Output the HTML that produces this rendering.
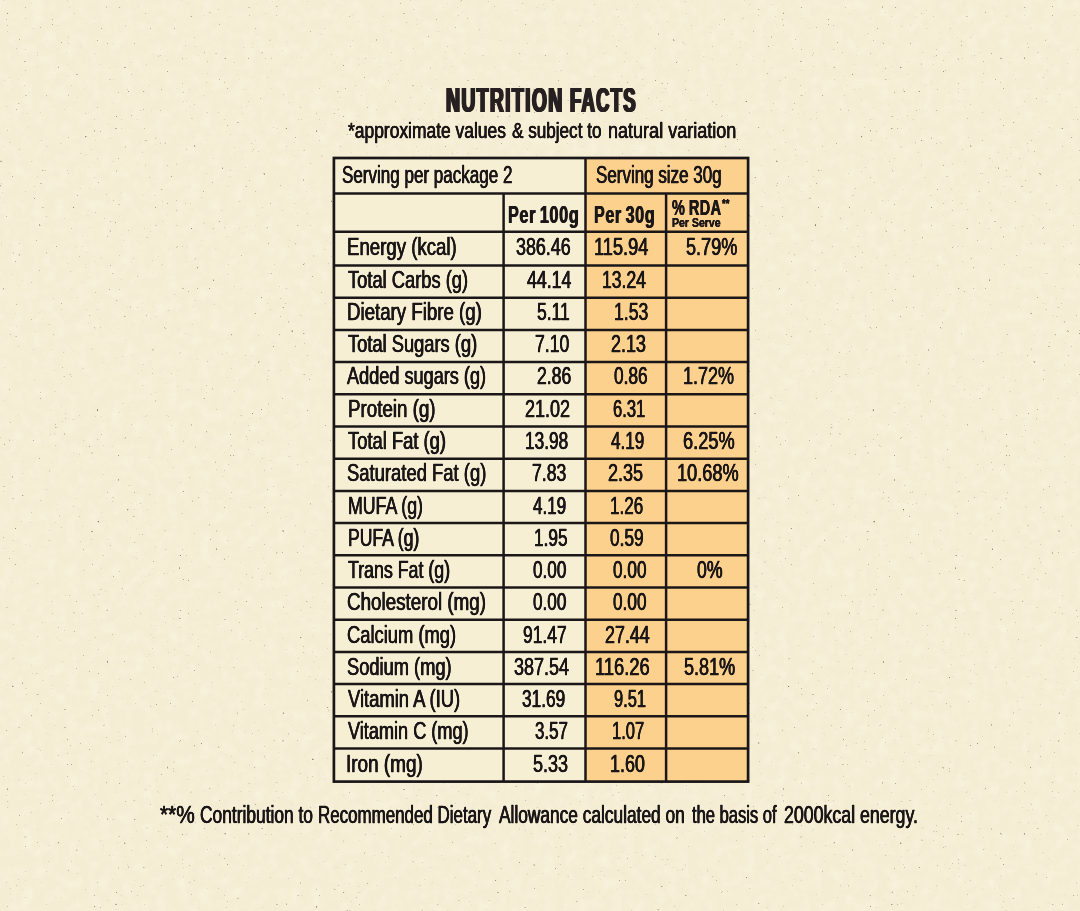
<!DOCTYPE html>
<html lang="en"><head><meta charset="utf-8"><title>Nutrition Facts</title>
<style>
html,body{margin:0;padding:0}
body{width:1080px;height:911px;background:#f4edd3;position:relative;overflow:hidden;font-family:"Liberation Sans",sans-serif;color:#1b1718}
#bg{position:absolute;left:0;top:0}
.t{position:absolute;white-space:nowrap;line-height:1;transform-origin:0 0;margin:0;font-weight:400;-webkit-text-stroke:0.3px #1b1718}
.b{font-weight:700;-webkit-text-stroke:0}
.g{position:absolute;left:0;top:0;width:0;height:0;font-size:0}
.g .t{display:block}
</style></head><body>
<svg id="bg" width="1080" height="911" viewBox="0 0 1080 911">
<defs><filter id="sp" x="0" y="0" width="100%" height="100%" color-interpolation-filters="sRGB"><feTurbulence type="fractalNoise" baseFrequency="0.33" numOctaves="2" seed="11"/><feColorMatrix type="matrix" values="0 0 0 0 0.45  0 0 0 0 0.41  0 0 0 0 0.33  -6 0 0 0 1.38"/></filter><filter id="mo" x="0" y="0" width="100%" height="100%" color-interpolation-filters="sRGB"><feTurbulence type="fractalNoise" baseFrequency="0.09" numOctaves="3" seed="4"/><feColorMatrix type="matrix" values="0 0 0 0 0.985  0 0 0 0 0.955  0 0 0 0 0.87  1.5 0 0 0 -0.6"/></filter></defs>
<rect width="1080" height="911" fill="#f4edd3" filter="url(#mo)"/>
<rect width="1080" height="911" fill="#f4edd3" filter="url(#sp)"/>
<rect x="333.9" y="158" width="251.6" height="623.6" fill="#f7efd4"/>
<rect x="585.5" y="158" width="162.6" height="623.6" fill="#fcd08d"/>
<g stroke="#1b1718" stroke-width="2.5" fill="none">
<line x1="333.9" y1="193.6" x2="748.1" y2="193.6"/>
<line x1="333.9" y1="231.7" x2="748.1" y2="231.7"/>
<line x1="333.9" y1="265.5" x2="748.1" y2="265.5"/>
<line x1="333.9" y1="297.7" x2="748.1" y2="297.7"/>
<line x1="333.9" y1="329.9" x2="748.1" y2="329.9"/>
<line x1="333.9" y1="362.1" x2="748.1" y2="362.1"/>
<line x1="333.9" y1="394.3" x2="748.1" y2="394.3"/>
<line x1="333.9" y1="426.5" x2="748.1" y2="426.5"/>
<line x1="333.9" y1="458.7" x2="748.1" y2="458.7"/>
<line x1="333.9" y1="490.9" x2="748.1" y2="490.9"/>
<line x1="333.9" y1="523.1" x2="748.1" y2="523.1"/>
<line x1="333.9" y1="555.3" x2="748.1" y2="555.3"/>
<line x1="333.9" y1="587.5" x2="748.1" y2="587.5"/>
<line x1="333.9" y1="619.7" x2="748.1" y2="619.7"/>
<line x1="333.9" y1="651.9" x2="748.1" y2="651.9"/>
<line x1="333.9" y1="684.1" x2="748.1" y2="684.1"/>
<line x1="333.9" y1="716.3" x2="748.1" y2="716.3"/>
<line x1="333.9" y1="748.5" x2="748.1" y2="748.5"/>
<line x1="503.6" y1="193.6" x2="503.6" y2="781.6"/>
<line x1="585.5" y1="158" x2="585.5" y2="781.6"/>
<line x1="666.1" y1="193.6" x2="666.1" y2="781.6"/>
</g>
<rect x="333.9" y="158" width="414.2" height="623.6" fill="none" stroke="#1b1718" stroke-width="2.7"/>
</svg>
<div class="g"><span class="t b" style="left:445.591px;top:79.9px;font-size:35px;line-height:39px;transform:scaleX(0.5544);text-shadow:1.623px 0 0 #262021,-1.623px 0 0 #262021,0.812px 0 0 #262021,-0.812px 0 0 #262021;color:#262021;letter-spacing:2.4px">NUTRITION</span> <span class="t b" style="left:570.445px;top:79.9px;font-size:35px;line-height:39px;transform:scaleX(0.5274);text-shadow:1.707px 0 0 #262021,-1.707px 0 0 #262021,0.853px 0 0 #262021,-0.853px 0 0 #262021;color:#262021;letter-spacing:2.4px">FACTS</span></div>
<div class="g"><span class="t" style="left:347.68px;top:118.1px;font-size:21.6px;line-height:25px;transform:scaleX(0.8074);text-shadow:0.334px 0 0 #1b1718,-0.334px 0 0 #1b1718">*approximate values</span> <span class="t" style="left:512.28px;top:118.1px;font-size:21.6px;line-height:25px;transform:scaleX(0.7928);text-shadow:0.341px 0 0 #1b1718,-0.341px 0 0 #1b1718">&amp; subject to</span> <span class="t" style="left:607.745px;top:118.1px;font-size:21.6px;line-height:25px;transform:scaleX(0.8352);text-shadow:0.323px 0 0 #1b1718,-0.323px 0 0 #1b1718">natural variation</span></div>
<div class="t" style="left:342.479px;top:161.8px;font-size:23.3px;line-height:26px;transform:scaleX(0.7310);text-shadow:0.41px 0 0 #1b1718,-0.41px 0 0 #1b1718">Serving per package 2</div>
<div class="t" style="left:595.981px;top:161.8px;font-size:23.3px;line-height:26px;transform:scaleX(0.7293);text-shadow:0.411px 0 0 #1b1718,-0.411px 0 0 #1b1718">Serving size 30g</div>
<div class="t b" style="left:507.854px;top:202.1px;font-size:23px;line-height:26px;transform:scaleX(0.7059);text-shadow:0.51px 0 0 #1b1718,-0.51px 0 0 #1b1718;letter-spacing:0.9px;word-spacing:-2px">Per 100g</div>
<div class="t b" style="left:594.059px;top:202.1px;font-size:23px;line-height:26px;transform:scaleX(0.7007);text-shadow:0.514px 0 0 #1b1718,-0.514px 0 0 #1b1718;letter-spacing:0.9px;word-spacing:-2px">Per 30g</div>
<div class="t b" style="left:672.06px;top:195.7px;font-size:21.4px;line-height:24px;transform:scaleX(0.6737);text-shadow:0.534px 0 0 #1b1718,-0.534px 0 0 #1b1718;letter-spacing:0.6px;word-spacing:-1px">% RDA</div>
<div class="t b" style="left:722.1px;top:196.2px;font-size:13px;line-height:15px;transform:scaleX(0.7324);text-shadow:0.273px 0 0 #1b1718,-0.273px 0 0 #1b1718">**</div>
<div class="t b" style="left:672.32px;top:216.4px;font-size:12.6px;line-height:14px;transform:scaleX(0.8356);text-shadow:0.263px 0 0 #1b1718,-0.263px 0 0 #1b1718">Per Serve</div>
<div class="t" style="left:347.44px;top:233.4px;font-size:24.2px;line-height:27px;transform:scaleX(0.7704);text-shadow:0.389px 0 0 #1b1718,-0.389px 0 0 #1b1718">Energy (kcal)</div>
<div class="t" style="left:515.51px;top:233.4px;font-size:24.2px;line-height:27px;transform:scaleX(0.7382);text-shadow:0.406px 0 0 #1b1718,-0.406px 0 0 #1b1718">386.46</div>
<div class="t" style="left:593.557px;top:233.4px;font-size:24.2px;line-height:27px;transform:scaleX(0.7533);text-shadow:0.398px 0 0 #1b1718,-0.398px 0 0 #1b1718">115.94</div>
<div class="t" style="left:686.21px;top:233.4px;font-size:24.2px;line-height:27px;transform:scaleX(0.7474);text-shadow:0.401px 0 0 #1b1718,-0.401px 0 0 #1b1718">5.79%</div>
<div class="t" style="left:347.91px;top:265.67px;font-size:24.2px;line-height:27px;transform:scaleX(0.7571);text-shadow:0.396px 0 0 #1b1718,-0.396px 0 0 #1b1718">Total Carbs (g)</div>
<div class="t" style="left:526.91px;top:265.67px;font-size:24.2px;line-height:27px;transform:scaleX(0.7337);text-shadow:0.409px 0 0 #1b1718,-0.409px 0 0 #1b1718">44.14</div>
<div class="t" style="left:602.484px;top:265.67px;font-size:24.2px;line-height:27px;transform:scaleX(0.7258);text-shadow:0.413px 0 0 #1b1718,-0.413px 0 0 #1b1718">13.24</div>
<div class="t" style="left:347.238px;top:297.94px;font-size:24.2px;line-height:27px;transform:scaleX(0.7719);text-shadow:0.389px 0 0 #1b1718,-0.389px 0 0 #1b1718">Dietary Fibre (g)</div>
<div class="t" style="left:536.51px;top:297.94px;font-size:24.2px;line-height:27px;transform:scaleX(0.7245);text-shadow:0.414px 0 0 #1b1718,-0.414px 0 0 #1b1718">5.11</div>
<div class="t" style="left:613.581px;top:297.94px;font-size:24.2px;line-height:27px;transform:scaleX(0.7294);text-shadow:0.411px 0 0 #1b1718,-0.411px 0 0 #1b1718">1.53</div>
<div class="t" style="left:348.01px;top:330.21px;font-size:24.2px;line-height:27px;transform:scaleX(0.7566);text-shadow:0.396px 0 0 #1b1718,-0.396px 0 0 #1b1718">Total Sugars (g)</div>
<div class="t" style="left:535.481px;top:330.21px;font-size:24.2px;line-height:27px;transform:scaleX(0.7294);text-shadow:0.411px 0 0 #1b1718,-0.411px 0 0 #1b1718">7.10</div>
<div class="t" style="left:611.07px;top:330.21px;font-size:24.2px;line-height:27px;transform:scaleX(0.7404);text-shadow:0.405px 0 0 #1b1718,-0.405px 0 0 #1b1718">2.13</div>
<div class="t" style="left:347.11px;top:362.48px;font-size:24.2px;line-height:27px;transform:scaleX(0.7495);text-shadow:0.4px 0 0 #1b1718,-0.4px 0 0 #1b1718">Added sugars (g)</div>
<div class="t" style="left:536.583px;top:362.48px;font-size:24.2px;line-height:27px;transform:scaleX(0.7272);text-shadow:0.413px 0 0 #1b1718,-0.413px 0 0 #1b1718">2.86</div>
<div class="t" style="left:614.31px;top:362.48px;font-size:24.2px;line-height:27px;transform:scaleX(0.7138);text-shadow:0.42px 0 0 #1b1718,-0.42px 0 0 #1b1718">0.86</div>
<div class="t" style="left:683.166px;top:362.48px;font-size:24.2px;line-height:27px;transform:scaleX(0.7436);text-shadow:0.403px 0 0 #1b1718,-0.403px 0 0 #1b1718">1.72%</div>
<div class="t" style="left:347.934px;top:394.75px;font-size:24.2px;line-height:27px;transform:scaleX(0.7755);text-shadow:0.387px 0 0 #1b1718,-0.387px 0 0 #1b1718">Protein (g)</div>
<div class="t" style="left:525.066px;top:394.75px;font-size:24.2px;line-height:27px;transform:scaleX(0.7445);text-shadow:0.403px 0 0 #1b1718,-0.403px 0 0 #1b1718">21.02</div>
<div class="t" style="left:612.624px;top:394.75px;font-size:24.2px;line-height:27px;transform:scaleX(0.6856);text-shadow:0.438px 0 0 #1b1718,-0.438px 0 0 #1b1718">6.31</div>
<div class="t" style="left:348.01px;top:427.02px;font-size:24.2px;line-height:27px;transform:scaleX(0.7593);text-shadow:0.395px 0 0 #1b1718,-0.395px 0 0 #1b1718">Total Fat (g)</div>
<div class="t" style="left:525.396px;top:427.02px;font-size:24.2px;line-height:27px;transform:scaleX(0.7140);text-shadow:0.42px 0 0 #1b1718,-0.42px 0 0 #1b1718">13.98</div>
<div class="t" style="left:610.91px;top:427.02px;font-size:24.2px;line-height:27px;transform:scaleX(0.7074);text-shadow:0.424px 0 0 #1b1718,-0.424px 0 0 #1b1718">4.19</div>
<div class="t" style="left:683.156px;top:427.02px;font-size:24.2px;line-height:27px;transform:scaleX(0.7541);text-shadow:0.398px 0 0 #1b1718,-0.398px 0 0 #1b1718">6.25%</div>
<div class="t" style="left:346.848px;top:459.29px;font-size:24.2px;line-height:27px;transform:scaleX(0.7621);text-shadow:0.394px 0 0 #1b1718,-0.394px 0 0 #1b1718">Saturated Fat (g)</div>
<div class="t" style="left:532.081px;top:459.29px;font-size:24.2px;line-height:27px;transform:scaleX(0.7294);text-shadow:0.411px 0 0 #1b1718,-0.411px 0 0 #1b1718">7.83</div>
<div class="t" style="left:608.365px;top:459.29px;font-size:24.2px;line-height:27px;transform:scaleX(0.7448);text-shadow:0.403px 0 0 #1b1718,-0.403px 0 0 #1b1718">2.35</div>
<div class="t" style="left:677.458px;top:459.29px;font-size:24.2px;line-height:27px;transform:scaleX(0.7523);text-shadow:0.399px 0 0 #1b1718,-0.399px 0 0 #1b1718">10.68%</div>
<div class="t" style="left:347.976px;top:491.56px;font-size:24.2px;line-height:27px;transform:scaleX(0.7342);text-shadow:0.409px 0 0 #1b1718,-0.409px 0 0 #1b1718">MUFA (g)</div>
<div class="t" style="left:532.81px;top:491.56px;font-size:24.2px;line-height:27px;transform:scaleX(0.7031);text-shadow:0.427px 0 0 #1b1718,-0.427px 0 0 #1b1718">4.19</div>
<div class="t" style="left:610.205px;top:491.56px;font-size:24.2px;line-height:27px;transform:scaleX(0.7053);text-shadow:0.425px 0 0 #1b1718,-0.425px 0 0 #1b1718">1.26</div>
<div class="t" style="left:347.984px;top:523.83px;font-size:24.2px;line-height:27px;transform:scaleX(0.7264);text-shadow:0.413px 0 0 #1b1718,-0.413px 0 0 #1b1718">PUFA (g)</div>
<div class="t" style="left:533.598px;top:523.83px;font-size:24.2px;line-height:27px;transform:scaleX(0.7119);text-shadow:0.421px 0 0 #1b1718,-0.421px 0 0 #1b1718">1.95</div>
<div class="t" style="left:610.31px;top:523.83px;font-size:24.2px;line-height:27px;transform:scaleX(0.7138);text-shadow:0.42px 0 0 #1b1718,-0.42px 0 0 #1b1718">0.59</div>
<div class="t" style="left:348.01px;top:556.1px;font-size:24.2px;line-height:27px;transform:scaleX(0.7349);text-shadow:0.408px 0 0 #1b1718,-0.408px 0 0 #1b1718">Trans Fat (g)</div>
<div class="t" style="left:532.51px;top:556.1px;font-size:24.2px;line-height:27px;transform:scaleX(0.7095);text-shadow:0.423px 0 0 #1b1718,-0.423px 0 0 #1b1718">0.00</div>
<div class="t" style="left:613.31px;top:556.1px;font-size:24.2px;line-height:27px;transform:scaleX(0.7117);text-shadow:0.422px 0 0 #1b1718,-0.422px 0 0 #1b1718">0.00</div>
<div class="t" style="left:697.21px;top:556.1px;font-size:24.2px;line-height:27px;transform:scaleX(0.7309);text-shadow:0.41px 0 0 #1b1718,-0.41px 0 0 #1b1718">0%</div>
<div class="t" style="left:347.233px;top:588.37px;font-size:24.2px;line-height:27px;transform:scaleX(0.7774);text-shadow:0.386px 0 0 #1b1718,-0.386px 0 0 #1b1718">Cholesterol (mg)</div>
<div class="t" style="left:532.51px;top:588.37px;font-size:24.2px;line-height:27px;transform:scaleX(0.7095);text-shadow:0.423px 0 0 #1b1718,-0.423px 0 0 #1b1718">0.00</div>
<div class="t" style="left:613.31px;top:588.37px;font-size:24.2px;line-height:27px;transform:scaleX(0.7117);text-shadow:0.422px 0 0 #1b1718,-0.422px 0 0 #1b1718">0.00</div>
<div class="t" style="left:347.251px;top:620.64px;font-size:24.2px;line-height:27px;transform:scaleX(0.7590);text-shadow:0.395px 0 0 #1b1718,-0.395px 0 0 #1b1718">Calcium (mg)</div>
<div class="t" style="left:522.789px;top:620.64px;font-size:24.2px;line-height:27px;transform:scaleX(0.7208);text-shadow:0.416px 0 0 #1b1718,-0.416px 0 0 #1b1718">91.47</div>
<div class="t" style="left:605.371px;top:620.64px;font-size:24.2px;line-height:27px;transform:scaleX(0.7394);text-shadow:0.406px 0 0 #1b1718,-0.406px 0 0 #1b1718">27.44</div>
<div class="t" style="left:346.854px;top:652.91px;font-size:24.2px;line-height:27px;transform:scaleX(0.7558);text-shadow:0.397px 0 0 #1b1718,-0.397px 0 0 #1b1718">Sodium (mg)</div>
<div class="t" style="left:514.01px;top:652.91px;font-size:24.2px;line-height:27px;transform:scaleX(0.7423);text-shadow:0.404px 0 0 #1b1718,-0.404px 0 0 #1b1718">387.54</div>
<div class="t" style="left:595.351px;top:652.91px;font-size:24.2px;line-height:27px;transform:scaleX(0.7589);text-shadow:0.395px 0 0 #1b1718,-0.395px 0 0 #1b1718">116.26</div>
<div class="t" style="left:684.41px;top:652.91px;font-size:24.2px;line-height:27px;transform:scaleX(0.7459);text-shadow:0.402px 0 0 #1b1718,-0.402px 0 0 #1b1718">5.81%</div>
<div class="t" style="left:347.61px;top:685.18px;font-size:24.2px;line-height:27px;transform:scaleX(0.7610);text-shadow:0.394px 0 0 #1b1718,-0.394px 0 0 #1b1718">Vitamin A (IU)</div>
<div class="t" style="left:522.41px;top:685.18px;font-size:24.2px;line-height:27px;transform:scaleX(0.7138);text-shadow:0.42px 0 0 #1b1718,-0.42px 0 0 #1b1718">31.69</div>
<div class="t" style="left:613.631px;top:685.18px;font-size:24.2px;line-height:27px;transform:scaleX(0.6790);text-shadow:0.442px 0 0 #1b1718,-0.442px 0 0 #1b1718">9.51</div>
<div class="t" style="left:347.61px;top:717.45px;font-size:24.2px;line-height:27px;transform:scaleX(0.7497);text-shadow:0.4px 0 0 #1b1718,-0.4px 0 0 #1b1718">Vitamin C (mg)</div>
<div class="t" style="left:535.01px;top:717.45px;font-size:24.2px;line-height:27px;transform:scaleX(0.6988);text-shadow:0.429px 0 0 #1b1718,-0.429px 0 0 #1b1718">3.57</div>
<div class="t" style="left:611.727px;top:717.45px;font-size:24.2px;line-height:27px;transform:scaleX(0.6834);text-shadow:0.439px 0 0 #1b1718,-0.439px 0 0 #1b1718">1.07</div>
<div class="t" style="left:346.445px;top:749.72px;font-size:24.2px;line-height:27px;transform:scaleX(0.7825);text-shadow:0.383px 0 0 #1b1718,-0.383px 0 0 #1b1718">Iron (mg)</div>
<div class="t" style="left:533.01px;top:749.72px;font-size:24.2px;line-height:27px;transform:scaleX(0.7438);text-shadow:0.403px 0 0 #1b1718,-0.403px 0 0 #1b1718">5.33</div>
<div class="t" style="left:610.47px;top:749.72px;font-size:24.2px;line-height:27px;transform:scaleX(0.7404);text-shadow:0.405px 0 0 #1b1718,-0.405px 0 0 #1b1718">1.60</div>
<div class="g"><span class="t" style="left:159.71px;top:800.8px;font-size:24.6px;line-height:27px;transform:scaleX(0.8465);text-shadow:0.354px 0 0 #1b1718,-0.354px 0 0 #1b1718">**%</span> <span class="t" style="left:199.704px;top:800.8px;font-size:24.6px;line-height:27px;transform:scaleX(0.7062);text-shadow:0.425px 0 0 #1b1718,-0.425px 0 0 #1b1718">Contribution to</span> <span class="t" style="left:318.333px;top:800.8px;font-size:24.6px;line-height:27px;transform:scaleX(0.6885);text-shadow:0.436px 0 0 #1b1718,-0.436px 0 0 #1b1718">Recommended Dietary</span> <span class="t" style="left:498.71px;top:800.8px;font-size:24.6px;line-height:27px;transform:scaleX(0.7040);text-shadow:0.426px 0 0 #1b1718,-0.426px 0 0 #1b1718">Allowance calculated on</span> <span class="t" style="left:692.31px;top:800.8px;font-size:24.6px;line-height:27px;transform:scaleX(0.6724);text-shadow:0.446px 0 0 #1b1718,-0.446px 0 0 #1b1718">the basis of</span> <span class="t" style="left:783.588px;top:800.8px;font-size:24.6px;line-height:27px;transform:scaleX(0.7220);text-shadow:0.415px 0 0 #1b1718,-0.415px 0 0 #1b1718">2000kcal energy.</span></div>
</body></html>
